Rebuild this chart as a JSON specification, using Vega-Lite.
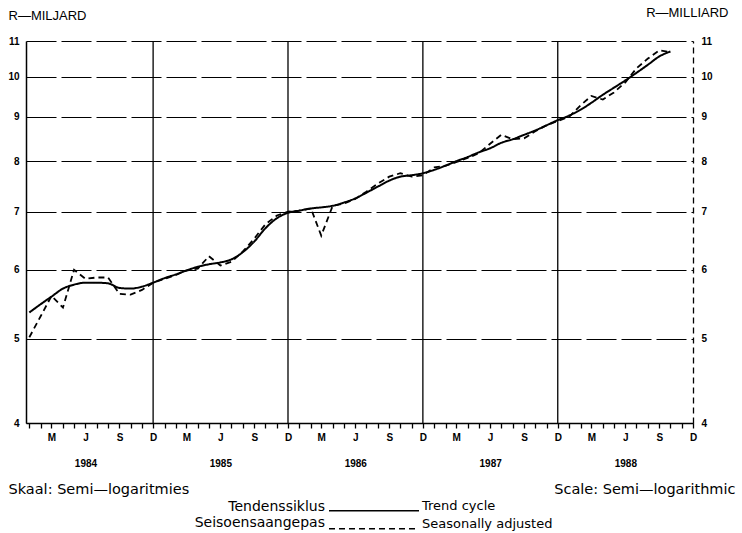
{
  "$schema": "https://vega.github.io/schema/vega-lite/v6.json",
  "width": 667,
  "height": 382,
  "autosize": {"type": "none"},
  "padding": {"left": 26, "top": 41, "right": 49, "bottom": 110},
  "background": "white",
  "config": {"view": {"stroke": null}, "font": "DejaVu Sans"},
  "datasets": {
    "decembers": [
      {"date": "1984-12-01"}, {"date": "1985-12-01"}, {"date": "1986-12-01"}, {"date": "1987-12-01"}
    ],
    "series": [
      {"date": "1984-01-01", "series": "Trend cycle", "value": 5.36},
      {"date": "1984-02-01", "series": "Trend cycle", "value": 5.48},
      {"date": "1984-03-01", "series": "Trend cycle", "value": 5.59},
      {"date": "1984-04-01", "series": "Trend cycle", "value": 5.71},
      {"date": "1984-05-01", "series": "Trend cycle", "value": 5.77},
      {"date": "1984-06-01", "series": "Trend cycle", "value": 5.80},
      {"date": "1984-07-01", "series": "Trend cycle", "value": 5.80},
      {"date": "1984-08-01", "series": "Trend cycle", "value": 5.79},
      {"date": "1984-09-01", "series": "Trend cycle", "value": 5.72},
      {"date": "1984-10-01", "series": "Trend cycle", "value": 5.71},
      {"date": "1984-11-01", "series": "Trend cycle", "value": 5.74},
      {"date": "1984-12-01", "series": "Trend cycle", "value": 5.80},
      {"date": "1985-01-01", "series": "Trend cycle", "value": 5.87},
      {"date": "1985-02-01", "series": "Trend cycle", "value": 5.93},
      {"date": "1985-03-01", "series": "Trend cycle", "value": 5.99},
      {"date": "1985-04-01", "series": "Trend cycle", "value": 6.05},
      {"date": "1985-05-01", "series": "Trend cycle", "value": 6.09},
      {"date": "1985-06-01", "series": "Trend cycle", "value": 6.12},
      {"date": "1985-07-01", "series": "Trend cycle", "value": 6.17},
      {"date": "1985-08-01", "series": "Trend cycle", "value": 6.29},
      {"date": "1985-09-01", "series": "Trend cycle", "value": 6.47},
      {"date": "1985-10-01", "series": "Trend cycle", "value": 6.70},
      {"date": "1985-11-01", "series": "Trend cycle", "value": 6.88},
      {"date": "1985-12-01", "series": "Trend cycle", "value": 6.98},
      {"date": "1986-01-01", "series": "Trend cycle", "value": 7.02},
      {"date": "1986-02-01", "series": "Trend cycle", "value": 7.06},
      {"date": "1986-03-01", "series": "Trend cycle", "value": 7.08},
      {"date": "1986-04-01", "series": "Trend cycle", "value": 7.11},
      {"date": "1986-05-01", "series": "Trend cycle", "value": 7.17},
      {"date": "1986-06-01", "series": "Trend cycle", "value": 7.25},
      {"date": "1986-07-01", "series": "Trend cycle", "value": 7.36},
      {"date": "1986-08-01", "series": "Trend cycle", "value": 7.48},
      {"date": "1986-09-01", "series": "Trend cycle", "value": 7.60},
      {"date": "1986-10-01", "series": "Trend cycle", "value": 7.68},
      {"date": "1986-11-01", "series": "Trend cycle", "value": 7.71},
      {"date": "1986-12-01", "series": "Trend cycle", "value": 7.75},
      {"date": "1987-01-01", "series": "Trend cycle", "value": 7.82},
      {"date": "1987-02-01", "series": "Trend cycle", "value": 7.91},
      {"date": "1987-03-01", "series": "Trend cycle", "value": 8.00},
      {"date": "1987-04-01", "series": "Trend cycle", "value": 8.09},
      {"date": "1987-05-01", "series": "Trend cycle", "value": 8.19},
      {"date": "1987-06-01", "series": "Trend cycle", "value": 8.28},
      {"date": "1987-07-01", "series": "Trend cycle", "value": 8.40},
      {"date": "1987-08-01", "series": "Trend cycle", "value": 8.48},
      {"date": "1987-09-01", "series": "Trend cycle", "value": 8.58},
      {"date": "1987-10-01", "series": "Trend cycle", "value": 8.68},
      {"date": "1987-11-01", "series": "Trend cycle", "value": 8.80},
      {"date": "1987-12-01", "series": "Trend cycle", "value": 8.92},
      {"date": "1988-01-01", "series": "Trend cycle", "value": 9.03},
      {"date": "1988-02-01", "series": "Trend cycle", "value": 9.17},
      {"date": "1988-03-01", "series": "Trend cycle", "value": 9.34},
      {"date": "1988-04-01", "series": "Trend cycle", "value": 9.54},
      {"date": "1988-05-01", "series": "Trend cycle", "value": 9.72},
      {"date": "1988-06-01", "series": "Trend cycle", "value": 9.91},
      {"date": "1988-07-01", "series": "Trend cycle", "value": 10.11},
      {"date": "1988-08-01", "series": "Trend cycle", "value": 10.33},
      {"date": "1988-09-01", "series": "Trend cycle", "value": 10.56},
      {"date": "1988-10-01", "series": "Trend cycle", "value": 10.70},
      {"date": "1984-01-01", "series": "Seasonally adjusted", "value": 5.02},
      {"date": "1984-02-01", "series": "Seasonally adjusted", "value": 5.31},
      {"date": "1984-03-01", "series": "Seasonally adjusted", "value": 5.60},
      {"date": "1984-04-01", "series": "Seasonally adjusted", "value": 5.43},
      {"date": "1984-05-01", "series": "Seasonally adjusted", "value": 6.00},
      {"date": "1984-06-01", "series": "Seasonally adjusted", "value": 5.86},
      {"date": "1984-07-01", "series": "Seasonally adjusted", "value": 5.88},
      {"date": "1984-08-01", "series": "Seasonally adjusted", "value": 5.88},
      {"date": "1984-09-01", "series": "Seasonally adjusted", "value": 5.63},
      {"date": "1984-10-01", "series": "Seasonally adjusted", "value": 5.62},
      {"date": "1984-11-01", "series": "Seasonally adjusted", "value": 5.69},
      {"date": "1984-12-01", "series": "Seasonally adjusted", "value": 5.80},
      {"date": "1985-01-01", "series": "Seasonally adjusted", "value": 5.86},
      {"date": "1985-02-01", "series": "Seasonally adjusted", "value": 5.92},
      {"date": "1985-03-01", "series": "Seasonally adjusted", "value": 5.99},
      {"date": "1985-04-01", "series": "Seasonally adjusted", "value": 6.02},
      {"date": "1985-05-01", "series": "Seasonally adjusted", "value": 6.22},
      {"date": "1985-06-01", "series": "Seasonally adjusted", "value": 6.07},
      {"date": "1985-07-01", "series": "Seasonally adjusted", "value": 6.13},
      {"date": "1985-08-01", "series": "Seasonally adjusted", "value": 6.30},
      {"date": "1985-09-01", "series": "Seasonally adjusted", "value": 6.52},
      {"date": "1985-10-01", "series": "Seasonally adjusted", "value": 6.77},
      {"date": "1985-11-01", "series": "Seasonally adjusted", "value": 6.93},
      {"date": "1985-12-01", "series": "Seasonally adjusted", "value": 7.00},
      {"date": "1986-01-01", "series": "Seasonally adjusted", "value": 7.02},
      {"date": "1986-02-01", "series": "Seasonally adjusted", "value": 7.06},
      {"date": "1986-03-01", "series": "Seasonally adjusted", "value": 6.57},
      {"date": "1986-04-01", "series": "Seasonally adjusted", "value": 7.11},
      {"date": "1986-05-01", "series": "Seasonally adjusted", "value": 7.15},
      {"date": "1986-06-01", "series": "Seasonally adjusted", "value": 7.24},
      {"date": "1986-07-01", "series": "Seasonally adjusted", "value": 7.38},
      {"date": "1986-08-01", "series": "Seasonally adjusted", "value": 7.54},
      {"date": "1986-09-01", "series": "Seasonally adjusted", "value": 7.68},
      {"date": "1986-10-01", "series": "Seasonally adjusted", "value": 7.75},
      {"date": "1986-11-01", "series": "Seasonally adjusted", "value": 7.68},
      {"date": "1986-12-01", "series": "Seasonally adjusted", "value": 7.71},
      {"date": "1987-01-01", "series": "Seasonally adjusted", "value": 7.87},
      {"date": "1987-02-01", "series": "Seasonally adjusted", "value": 7.91},
      {"date": "1987-03-01", "series": "Seasonally adjusted", "value": 7.98},
      {"date": "1987-04-01", "series": "Seasonally adjusted", "value": 8.07},
      {"date": "1987-05-01", "series": "Seasonally adjusted", "value": 8.17},
      {"date": "1987-06-01", "series": "Seasonally adjusted", "value": 8.38},
      {"date": "1987-07-01", "series": "Seasonally adjusted", "value": 8.58},
      {"date": "1987-08-01", "series": "Seasonally adjusted", "value": 8.48},
      {"date": "1987-09-01", "series": "Seasonally adjusted", "value": 8.50},
      {"date": "1987-10-01", "series": "Seasonally adjusted", "value": 8.66},
      {"date": "1987-11-01", "series": "Seasonally adjusted", "value": 8.80},
      {"date": "1987-12-01", "series": "Seasonally adjusted", "value": 8.90},
      {"date": "1988-01-01", "series": "Seasonally adjusted", "value": 9.00},
      {"date": "1988-02-01", "series": "Seasonally adjusted", "value": 9.28},
      {"date": "1988-03-01", "series": "Seasonally adjusted", "value": 9.51},
      {"date": "1988-04-01", "series": "Seasonally adjusted", "value": 9.42},
      {"date": "1988-05-01", "series": "Seasonally adjusted", "value": 9.60},
      {"date": "1988-06-01", "series": "Seasonally adjusted", "value": 9.86},
      {"date": "1988-07-01", "series": "Seasonally adjusted", "value": 10.23},
      {"date": "1988-08-01", "series": "Seasonally adjusted", "value": 10.50},
      {"date": "1988-09-01", "series": "Seasonally adjusted", "value": 10.73},
      {"date": "1988-10-01", "series": "Seasonally adjusted", "value": 10.68}
    ]
  },
  "layer": [
    {
      "data": {"name": "decembers"},
      "mark": {"type": "rule", "color": "black", "strokeWidth": 1.3},
      "encoding": {
        "x": {
          "field": "date", "type": "temporal",
          "scale": {"type": "utc", "nice": false, "domain": [{"year": 1983, "month": 12, "date": 23, "utc": true}, {"year": 1988, "month": 12, "date": 1, "utc": true}]},
          "axis": null
        }
      }
    },
    {
      "data": {"name": "series"},
      "transform": [{"filter": "datum.series == 'Trend cycle'"}],
      "mark": {"type": "line", "color": "black", "strokeWidth": 2, "interpolate": "monotone"},
      "encoding": {
        "x": {
          "field": "date", "type": "temporal",
          "axis": {
            "orient": "bottom",
            "title": "Skaal: Semi—logaritmies",
            "titleX": -18, "titleY": 66, "titleAlign": "left", "titleBaseline": "middle",
            "titleFont": "DejaVu Sans", "titleFontSize": 14.5, "titleFontWeight": "normal", "titleColor": "black",
            "tickCount": {"interval": "month", "step": 1},
            "labelExpr": "utcmonth(datum.value) == 2 ? 'M' : utcmonth(datum.value) == 5 ? ['J', '' + utcyear(datum.value)] : utcmonth(datum.value) == 8 ? 'S' : utcmonth(datum.value) == 11 ? 'D' : ''",
            "labelFont": "Liberation Sans", "labelFontSize": 10, "labelFontWeight": "bold", "labelColor": "black",
            "labelLineHeight": 26, "labelBaseline": "top", "labelPadding": 4,
            "labelOverlap": false, "labelBound": false, "labelFlush": false,
            "tickSize": 5, "tickColor": "black", "tickWidth": 1.3,
            "domainColor": "black", "domainWidth": 1.5, "grid": false
          }
        },
        "y": {
          "field": "value", "type": "quantitative",
          "scale": {"type": "log", "domain": [4, 11], "nice": false, "zero": false},
          "axis": {
            "orient": "left", "values": [4, 5, 6, 7, 8, 9, 10, 11], "format": "d",
            "title": "R—MILJARD", "titleAngle": 0, "titleX": -18, "titleY": -26,
            "titleAlign": "left", "titleBaseline": "middle",
            "titleFont": "Liberation Sans", "titleFontSize": 13, "titleFontWeight": "normal", "titleColor": "black",
            "grid": true, "gridColor": "black", "gridWidth": 1.2, "gridDash": [30, 5], "gridOpacity": 1,
            "ticks": false, "labelPadding": 7,
            "labelFont": "Liberation Sans", "labelFontSize": 10, "labelFontWeight": "bold", "labelColor": "black",
            "domainColor": "black", "domainWidth": 1.5
          }
        },
        "strokeDash": {
          "field": "series", "type": "nominal",
          "scale": {"domain": ["Trend cycle", "Seasonally adjusted"], "range": [[1, 0], [6, 4]]},
          "legend": {
            "orient": "none", "legendX": 169, "legendY": 458,
            "title": ["Tendenssiklus", "Seisoensaangepas"],
            "titleOrient": "left", "titleAlign": "right", "titleLineHeight": 16,
            "titleFont": "DejaVu Sans", "titleFontSize": 14, "titleFontWeight": "normal", "titleColor": "black",
            "titlePadding": -89,
            "labelFont": "DejaVu Sans", "labelFontSize": 13, "labelColor": "black", "labelOffset": 41,
            "symbolType": "M-7.5,0.8H7.5", "symbolSize": 144,
            "symbolStrokeColor": "black", "symbolStrokeWidth": 1.5, "symbolFillColor": "transparent",
            "rowPadding": 3, "direction": "vertical"
          }
        }
      }
    },
    {
      "data": {"name": "series"},
      "transform": [{"filter": "datum.series == 'Seasonally adjusted'"}],
      "mark": {"type": "line", "color": "black", "strokeWidth": 1.8},
      "encoding": {
        "x": {
          "field": "date", "type": "temporal",
          "axis": {
            "orient": "top", "labels": false, "ticks": false, "domain": false, "grid": false,
            "title": "Scale: Semi—logarithmic",
            "titleX": 709, "titleY": 448, "titleAlign": "right", "titleBaseline": "middle",
            "titleFont": "DejaVu Sans", "titleFontSize": 14.5, "titleFontWeight": "normal", "titleColor": "black"
          }
        },
        "y": {
          "field": "value", "type": "quantitative",
          "axis": {
            "orient": "right", "values": [4, 5, 6, 7, 8, 9, 10, 11], "format": "d",
            "title": "R—MILLIARD", "titleAngle": 0, "titleX": 35, "titleY": -29,
            "titleAlign": "right", "titleBaseline": "middle",
            "titleFont": "Liberation Sans", "titleFontSize": 13, "titleFontWeight": "normal", "titleColor": "black",
            "grid": false, "ticks": false, "labelPadding": 8,
            "labelFont": "Liberation Sans", "labelFontSize": 10, "labelFontWeight": "bold", "labelColor": "black",
            "domainColor": "black", "domainWidth": 1.3, "domainDash": [6, 4]
          }
        },
        "strokeDash": {"field": "series", "type": "nominal"}
      }
    }
  ],
  "resolve": {"axis": {"x": "independent", "y": "independent"}}
}
